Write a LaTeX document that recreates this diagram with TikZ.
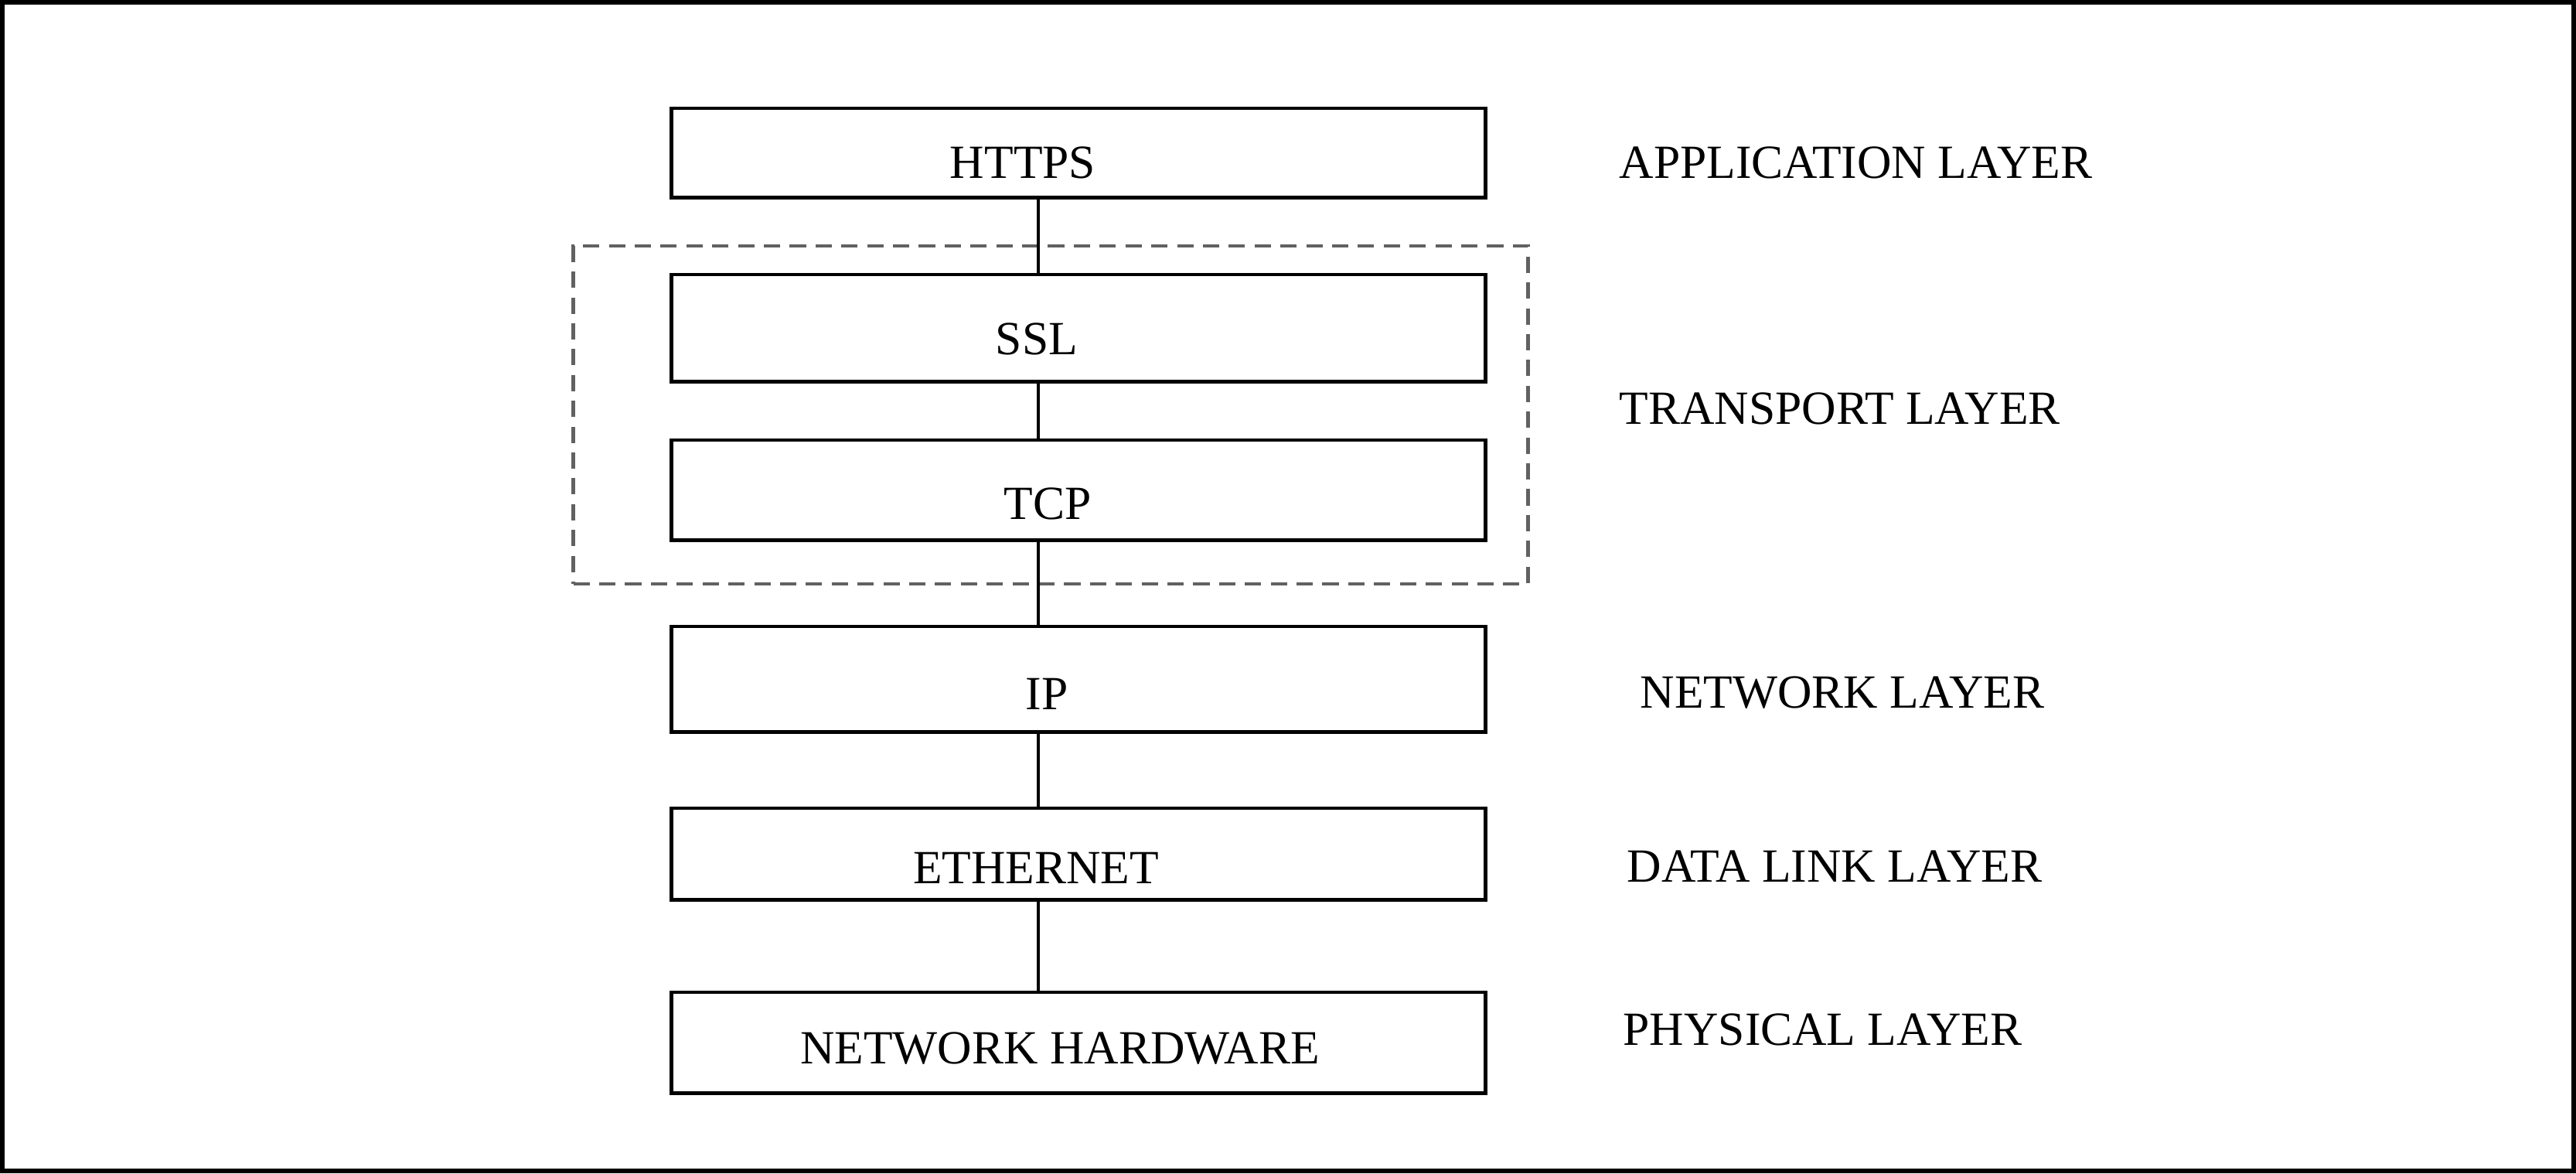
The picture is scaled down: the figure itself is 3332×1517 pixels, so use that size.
\documentclass[tikz,border=0pt]{standalone}
\usepackage{fontspec}
\setmainfont{Liberation Serif}
\begin{document}
\begin{tikzpicture}[x=0.01cm,y=-0.01cm,
  layerbox/.style={draw=black, line width=1.4pt, minimum width=10.52cm, inner sep=0pt},
  boxtext/.style={font=\fontsize{17.5}{20}\selectfont, inner sep=0pt},
  laytext/.style={font=\fontsize{17.5}{20}\selectfont, inner sep=0pt, anchor=west},
  link/.style={draw=black, line width=0.9pt},
  groupbox/.style={draw=black!62, line width=1.3pt, dash pattern=on 6pt off 3.5pt, inner sep=0pt}]
\useasboundingbox (0,0) rectangle (3332,1517);
\draw[line width=0.06cm] (3,3) rectangle (3329,1514);

% layer boxes
\node[layerbox, minimum height=1.15cm] (https) at (1395,197.5) {};
\node[layerbox, minimum height=1.38cm] (ssl) at (1395,424) {};
\node[layerbox, minimum height=1.29cm] (tcp) at (1395,633.5) {};
\node[layerbox, minimum height=1.36cm] (ip) at (1395,878) {};
\node[layerbox, minimum height=1.18cm] (eth) at (1395,1104) {};
\node[layerbox, minimum height=1.30cm] (hw) at (1395,1348) {};

% transport group
\node[groupbox, minimum width=12.34cm, minimum height=4.37cm] (transport) at (1359,536.5) {};

% box texts
\node[boxtext] (httpsT) at (1323,210) {HTTPS};
\node[boxtext] (sslT) at (1341,438) {SSL};
\node[boxtext] (tcpT) at (1355,651) {TCP};
\node[boxtext] (ipT) at (1354,897) {IP};
\node[boxtext] (ethT) at (1340,1122) {ETHERNET};
\node[boxtext] (hwT) at (1371,1356) {NETWORK HARDWARE};

% connectors
\coordinate (cx) at (1343,0);
\draw[link] (https.south -| cx) -- (ssl.north -| cx);
\draw[link] (ssl.south -| cx) -- (tcp.north -| cx);
\draw[link] (tcp.south -| cx) -- (ip.north -| cx);
\draw[link] (ip.south -| cx) -- (eth.north -| cx);
\draw[link] (eth.south -| cx) -- (hw.north -| cx);

% layer labels
\node[laytext] (appL) at (2094,210) {APPLICATION LAYER};
\node[laytext] (transL) at (2094,528) {TRANSPORT LAYER};
\node[laytext] (netL) at (2121,896) {NETWORK LAYER};
\node[laytext] (dataL) at (2104,1120) {DATA LINK LAYER};
\node[laytext] (physL) at (2099,1331) {PHYSICAL LAYER};
\end{tikzpicture}
\end{document}
